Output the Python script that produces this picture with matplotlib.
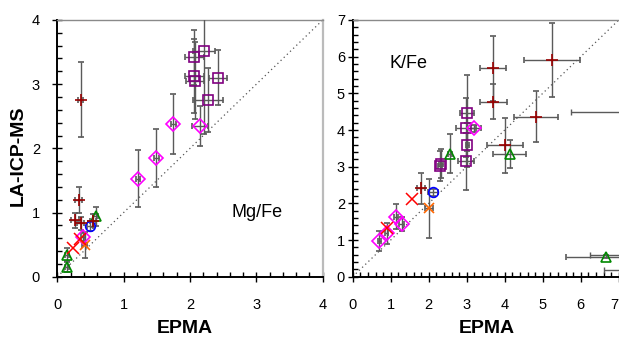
import numpy as np
import matplotlib
matplotlib.use("Agg")
import matplotlib.pyplot as plt
from matplotlib.ticker import MultipleLocator

plt.rcParams['font.family'] = ['Liberation Sans Narrow', 'Liberation Sans', 'DejaVu Sans']

# =====================================================
# Mg/Fe panel data (EPMA vs LA-ICP-MS)
# =====================================================
mg_plus_x = [0.35, 0.32, 0.27, 0.35, 0.54]
mg_plus_y = [2.76, 1.19, 0.88, 0.83, 0.87]
mg_plus_xerr = [0.04, 0.05, 0.06, 0.05, 0.05]
mg_plus_yerr = [0.58, 0.20, 0.12, 0.10, 0.10]

mg_cross_x = [0.24, 0.34]
mg_cross_y = [0.44, 0.58]

mg_orange_x = [0.41]
mg_orange_y = [0.49]
mg_orange_xerr = [0.04]
mg_orange_yerr = [0.20]

mg_circle_x = [0.49]
mg_circle_y = [0.79]
mg_circle_xerr = [0.05]
mg_circle_yerr = [0.08]

mg_tri_x = [0.58, 0.14, 0.14]
mg_tri_y = [0.94, 0.34, 0.15]
mg_tri_xerr = [0.04, 0.03, 0.03]
mg_tri_yerr = [0.15, 0.10, 0.08]

mg_diam_x = [1.21, 1.49, 1.75, 2.15, 0.38]
mg_diam_y = [1.53, 1.85, 2.38, 2.35, 0.62]
mg_diam_xerr = [0.03, 0.04, 0.04, 0.12, 0.03]
mg_diam_yerr = [0.44, 0.45, 0.47, 0.31, 0.06]

mg_sq_x = [2.065, 2.21, 2.065, 2.075, 2.42, 2.27]
mg_sq_y = [3.42, 3.52, 3.13, 3.05, 3.10, 2.75]
mg_sq_xerr = [0.14, 0.17, 0.14, 0.14, 0.13, 0.22]
mg_sq_yerr = [0.43, 1.30, 0.58, 0.60, 0.43, 0.50]

# =====================================================
# K/Fe panel data
# =====================================================
k_plus_x = [3.70, 3.70, 5.24, 4.82, 4.01, 1.80]
k_plus_y = [5.68, 4.77, 5.91, 4.36, 3.59, 2.41]
k_plus_xerr = [0.34, 0.35, 0.73, 0.57, 0.47, 0.10]
k_plus_yerr = [0.88, 0.48, 1.00, 0.70, 0.75, 0.42]

k_cross_x = [0.91, 1.55]
k_cross_y = [1.34, 2.11]

k_orange_x = [2.01]
k_orange_y = [1.86]
k_orange_xerr = [0.10]
k_orange_yerr = [0.80]

k_circle_x = [2.12]
k_circle_y = [2.30]
k_circle_xerr = [0.13]
k_circle_yerr = [0.10]

k_tri_x = [2.56, 4.13, 6.67]
k_tri_y = [3.35, 3.34, 0.55]
k_tri_xerr = [0.05, 0.44, 1.06]
k_tri_yerr = [0.53, 0.38, 0.05]

k_diam_x = [0.70, 0.89, 1.14, 1.29, 3.19]
k_diam_y = [0.98, 1.18, 1.64, 1.44, 4.05]
k_diam_xerr = [0.04, 0.05, 0.06, 0.06, 0.18]
k_diam_yerr = [0.27, 0.29, 0.34, 0.20, 0.10]

k_sq_x = [2.32, 2.30, 3.00, 2.98, 3.02, 2.98]
k_sq_y = [3.08, 3.02, 4.47, 4.06, 3.59, 3.15]
k_sq_xerr = [0.06, 0.06, 0.19, 0.27, 0.05, 0.20]
k_sq_yerr = [0.40, 0.40, 1.03, 0.80, 0.60, 0.78]

# points beyond the x range, only their error bars reach into the panel
k_off_x = [7.90, 7.30, 7.50]
k_off_y = [4.50, 0.60, 0.18]
k_off_xerr = [2.16, 1.05, 0.89]

k_ticks = [0, 1, 2, 3, 4, 5, 6, 7]

DARKRED = '#990000'
ECOLOR = '#5a5a5a'


def draw(ax, x, y, xerr, yerr, marker, color, ms, open_marker=True, mew=1.2):
    ax.errorbar(x, y, xerr=xerr, yerr=yerr, fmt=marker, ms=ms,
                mfc='none' if open_marker else color, mec=color, mew=mew,
                ecolor=ECOLOR, elinewidth=1.0, capsize=2.2, capthick=1.0,
                zorder=3)


def style_axes(ax, top):
    ax.set_xlim(0, top)
    ax.set_ylim(0, top)
    ax.plot([0, top], [0, top], linestyle=(0, (1, 2.5)), color='#555555',
            linewidth=0.9, zorder=1)
    for side in ('left', 'bottom'):
        ax.spines[side].set_color('black')
        ax.spines[side].set_linewidth(1.4)
    ax.spines['top'].set_color('#8a8a8a')
    ax.spines['top'].set_linewidth(1.0)
    ax.spines['right'].set_color('#bbbbbb')
    ax.spines['right'].set_linewidth(1.6)
    ax.xaxis.set_major_locator(MultipleLocator(1))
    ax.yaxis.set_major_locator(MultipleLocator(1))
    ax.xaxis.set_minor_locator(MultipleLocator(0.2))
    ax.yaxis.set_minor_locator(MultipleLocator(0.2))
    ax.tick_params(which='major', direction='inout', length=7, width=1.0,
                   labelsize=10.5, top=False, right=False)
    ax.tick_params(which='minor', direction='in', length=3.5, width=1.0,
                   top=False, right=False)
    ax.tick_params(axis='x', which='major', pad=12)


fig = plt.figure(figsize=(6.19, 3.40), dpi=100)
ax1 = fig.add_axes([0.0926, 0.1862, 0.4288, 0.755])
ax2 = fig.add_axes([0.5698, 0.1862, 0.4298, 0.755])

# ---------------- Mg/Fe ----------------
style_axes(ax1, 4)
ax1.tick_params(axis='y', which='major', pad=9)
draw(ax1, mg_sq_x, mg_sq_y, mg_sq_xerr, mg_sq_yerr, 's', '#800080', 7.5)
draw(ax1, mg_diam_x, mg_diam_y, mg_diam_xerr, mg_diam_yerr, 'D', '#ff00ff', 6.8)
draw(ax1, mg_tri_x, mg_tri_y, mg_tri_xerr, mg_tri_yerr, '^', '#008800', 7.0)
draw(ax1, mg_circle_x, mg_circle_y, mg_circle_xerr, mg_circle_yerr, 'o', '#0000ff', 7.0)
draw(ax1, mg_orange_x, mg_orange_y, mg_orange_xerr, mg_orange_yerr, 'x', '#ff6600', 7.0)
draw(ax1, mg_plus_x, mg_plus_y, mg_plus_xerr, mg_plus_yerr, '+', DARKRED, 8.0)
ax1.plot(mg_cross_x, mg_cross_y, 'x', color='#ff0000', ms=8, mew=1.1, zorder=4)
ax1.text(2.62, 1.0, 'Mg/Fe', fontsize=13, family='Liberation Sans',
         ha='left', va='center')
ax1.set_xlabel('EPMA', fontsize=14, fontweight='bold', family='Liberation Sans',
               va='center')
ax1.xaxis.set_label_coords(0.48, -0.2)
ax1.set_ylabel('LA-ICP-MS', fontsize=14, fontweight='bold',
               family='Liberation Sans', va='center')
ax1.yaxis.set_label_coords(-0.148, 0.47)

# ---------------- K/Fe ----------------
style_axes(ax2, 7)
ax2.spines['right'].set_visible(False)
ax2.tick_params(axis='y', which='major', pad=2)
ax2.errorbar(k_off_x, k_off_y, xerr=k_off_xerr, fmt='none', ecolor=ECOLOR,
             elinewidth=1.0, capsize=2.2, capthick=1.0, zorder=3)
draw(ax2, k_sq_x, k_sq_y, k_sq_xerr, k_sq_yerr, 's', '#800080', 7.5)
draw(ax2, k_diam_x, k_diam_y, k_diam_xerr, k_diam_yerr, 'D', '#ff00ff', 6.8)
draw(ax2, k_tri_x, k_tri_y, k_tri_xerr, k_tri_yerr, '^', '#008800', 7.0)
draw(ax2, k_circle_x, k_circle_y, k_circle_xerr, k_circle_yerr, 'o', '#0000ff', 7.0)
draw(ax2, k_orange_x, k_orange_y, k_orange_xerr, k_orange_yerr, 'x', '#ff6600', 7.5)
draw(ax2, k_plus_x, k_plus_y, k_plus_xerr, k_plus_yerr, '+', DARKRED, 8.0)
ax2.plot(k_cross_x, k_cross_y, 'x', color='#ff0000', ms=8, mew=1.1, zorder=4)
ax2.text(0.98, 5.8, 'K/Fe', fontsize=13, family='Liberation Sans',
         ha='left', va='center')
ax2.set_xlabel('EPMA', fontsize=14, fontweight='bold', family='Liberation Sans',
               va='center')
ax2.xaxis.set_label_coords(0.505, -0.2)

# the last x label sits at the figure edge: keep it inside
ax2.set_xticks(k_ticks)
ax2.set_xticklabels([str(v) for v in k_ticks])
ax2.get_xticklabels()[-1].set_horizontalalignment('right')
ax2.set_xlim(0, 7)

fig.savefig('out.png', dpi=100)
